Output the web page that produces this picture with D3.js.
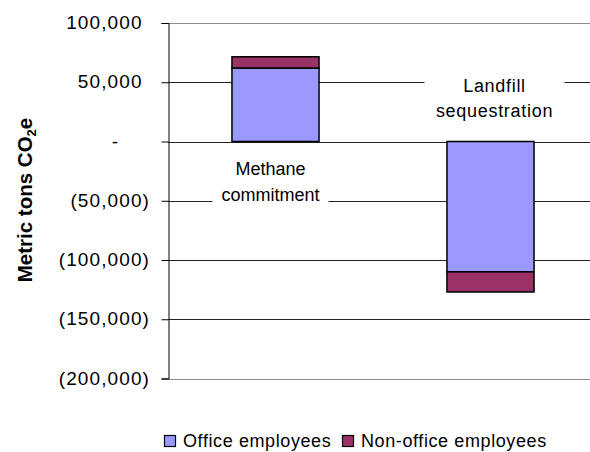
<!DOCTYPE html>
<html>
<head>
<meta charset="utf-8">
<script src="https://cdn.jsdelivr.net/npm/d3@7"></script>
<style>
  body { margin: 0; background: #fff; }
  svg { display: block; font-family: "Liberation Sans", Arial, sans-serif; }
</style>
</head>
<body>
<div id="chart"></div>
<script>
'use strict'

// chart values
const categories = ['Methane commitment', 'Landfill sequestration'];
const seriesNames = ['Office employees', 'Non-office employees'];
const officeValues = [62000, -110000];
const nonOfficeValues = [9500, -17000];
const yTicks = [100000, 50000, 0, -50000, -100000, -150000, -200000];
const labelLines = [['Methane', 'commitment'], ['Landfill', 'sequestration']];
const colors = ['#9999ff', '#993366'];

const width = 590, height = 452;
const margin = {top: 23, left: 168, bottom: 378.5, right: 598};

let svg = d3.select('#chart').append('svg')
  .attr('width', width)
  .attr('height', height);

let x = d3.scaleBand()
  .domain(categories)
  .range([margin.left, margin.right])
  .paddingInner(0.595)
  .paddingOuter(0.2975);

let y = d3.scaleLinear()
  .domain([-200000, 100000])
  .range([margin.bottom, margin.top]);

// grid lines
svg.append('g').selectAll('line')
  .data(yTicks)
  .join('line')
  .attr('x1', margin.left)
  .attr('x2', width)
  .attr('y1', d => Math.round(y(d)) + 0.5)
  .attr('y2', d => Math.round(y(d)) + 0.5)
  .attr('stroke', (d, i) => (i === 0 || i === yTicks.length - 1) ? '#8c8c8c' : '#222')
  .attr('stroke-width', 1);

// y axis (ticks + line)
let yAxis = d3.axisLeft(y)
  .tickValues(yTicks)
  .tickSize(7)
  .tickFormat('');

svg.append('g')
  .attr('transform', 'translate(' + (margin.left + 0.5) + ',0)')
  .call(yAxis)
  .call(g => g.select('.domain').attr('stroke', '#000'))
  .call(g => g.selectAll('.tick line').attr('stroke', '#000'));

// accounting-style tick labels
let fmt = d3.format(',');
let tickText = svg.append('g').selectAll('text')
  .data(yTicks)
  .join('text')
  .attr('x', 150)
  .attr('y', d => y(d) + 6)
  .attr('text-anchor', 'end')
  .attr('font-size', 19)
  .attr('letter-spacing', 1.1)
  .attr('fill', '#000');

tickText.each(function(d) {
  let t = d3.select(this);
  if (d > 0) {
    t.append('tspan').text(fmt(d));
    t.append('tspan').attr('fill-opacity', 0).text(')');
  } else if (d === 0) {
    t.append('tspan').text('-');
    t.append('tspan').attr('fill-opacity', 0).text('00)');
  } else {
    t.append('tspan').text('(' + fmt(-d) + ')');
  }
});

// stacked bars
let stacks = categories.map((c, i) => {
  let o = officeValues[i], n = nonOfficeValues[i];
  return [
    {cat: c, y0: 0, y1: o, color: colors[0]},
    {cat: c, y0: o, y1: o + n, color: colors[1]}
  ];
}).flat();

svg.append('g').selectAll('rect')
  .data(stacks)
  .join('rect')
  .attr('x', d => x(d.cat))
  .attr('width', x.bandwidth())
  .attr('y', d => y(Math.max(d.y0, d.y1)))
  .attr('height', d => Math.abs(y(d.y0) - y(d.y1)))
  .attr('fill', d => d.color)
  .attr('stroke', '#000')
  .attr('stroke-width', 1.5);

// category labels with white backing
let labelY = [-28300, 41800];
let labelBoxW = [116, 140];
let labelSpacing = [0, 0.7];
let labels = svg.append('g').selectAll('g')
  .data(categories)
  .join('g')
  .attr('transform', (d, i) => 'translate(' + (x(d) + x.bandwidth() / 2 - (i === 0 ? 5 : -4)) + ',' + y(labelY[i]) + ')');

labels.append('rect')
  .attr('x', (d, i) => -labelBoxW[i] / 2)
  .attr('y', -22)
  .attr('width', (d, i) => labelBoxW[i])
  .attr('height', 54)
  .attr('fill', '#fff');

labels.each(function(d, i) {
  let g = d3.select(this);
  labelLines[i].forEach((line, k) => {
    g.append('text')
      .attr('x', 0)
      .attr('y', k * 25.5)
      .attr('text-anchor', 'middle')
      .attr('font-size', 18)
      .attr('letter-spacing', labelSpacing[i])
      .attr('fill', '#000')
      .text(line);
  });
});

// y axis title
svg.append('text')
  .attr('transform', 'translate(32,200) rotate(-90)')
  .attr('text-anchor', 'middle')
  .attr('font-size', 20.5)
  .attr('font-weight', 'bold')
  .call(t => {
    t.append('tspan').text('Metric tons CO');
    t.append('tspan').attr('font-size', 13).attr('dy', 4).text('2');
    t.append('tspan').attr('dy', -4).text('e');
  });

// legend
let legendX = [164, 342];
let legend = svg.append('g').selectAll('g')
  .data(seriesNames)
  .join('g')
  .attr('transform', (d, i) => 'translate(' + legendX[i] + ',435)');

legend.append('rect')
  .attr('x', 0.5)
  .attr('y', 0.5)
  .attr('width', 11)
  .attr('height', 11)
  .attr('fill', (d, i) => colors[i])
  .attr('stroke', '#000')
  .attr('stroke-width', 1.2);

legend.append('text')
  .attr('x', 19)
  .attr('y', 12)
  .attr('font-size', 18)
  .attr('letter-spacing', 0.6)
  .attr('fill', '#000')
  .text(d => d);
</script>
</body>
</html>
